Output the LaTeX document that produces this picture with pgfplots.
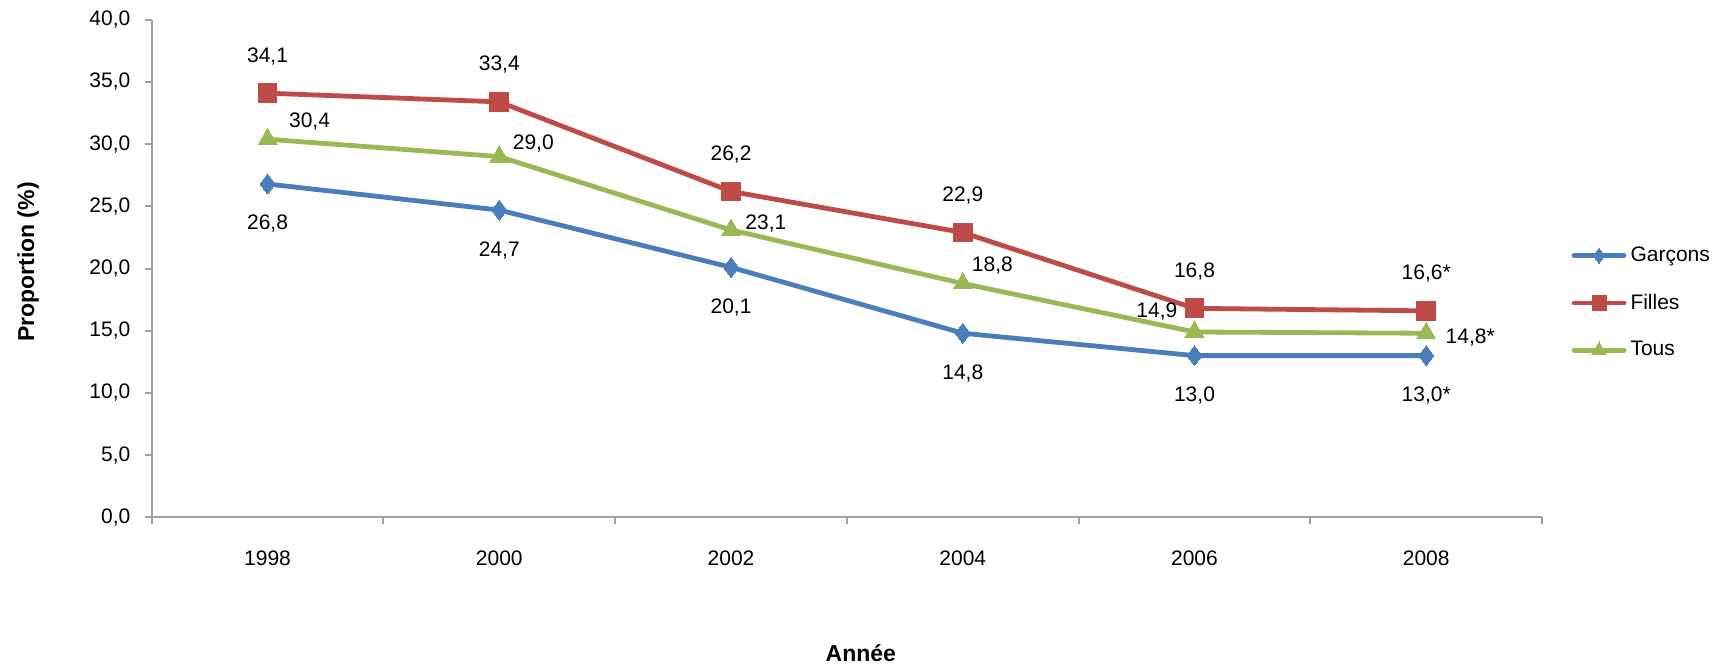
\documentclass[border=0pt]{standalone}
\usepackage{fontspec}
\setmainfont{Liberation Sans}
\usepackage{pgfplots}
\pgfplotsset{compat=1.18}
\usepackage{pgfplotstable}

\definecolor{cg}{RGB}{74,126,187}
\definecolor{cf}{RGB}{190,75,72}
\definecolor{ct}{RGB}{152,185,84}
\definecolor{axgray}{RGB}{160,160,160}

% year index, values, labels, offsets of the "Tous" labels (pt)
\pgfplotstableread{
x g gl f fl t tl tdx tdy
0 26.8 26,8 34.1 34,1 30.4 30,4 21 9
1 24.7 24,7 33.4 33,4 29.0 29,0 17 6.5
2 20.1 20,1 26.2 26,2 23.1 23,1 17.4 3.3
3 14.8 14,8 22.9 22,9 18.8 18,8 14.8 9.2
4 13.0 13,0 16.8 16,8 14.9 14,9 -18.8 10
5 13.0 13,0* 16.6 16,6* 14.8 14,8* 22 -2
}\data

\begin{document}
\begin{tikzpicture}[font=\fontsize{10.5}{12.6}\selectfont]
\useasboundingbox (-75.85pt,-74.35pt) rectangle (785.65pt,258.65pt);
\begin{axis}[
  scale only axis,
  width=695.2pt, height=248.75pt,
  xmin=-0.5, xmax=5.5,
  ymin=0, ymax=40,
  clip=false,
  axis lines*=left,
  axis line style={axgray, line width=1pt},
  tick style={axgray, line width=1pt},
  tick align=outside,
  major tick length=3.5pt,
  xtick={-0.5,0.5,...,5.5},
  xticklabels={1998,2000,2002,2004,2006,2008},
  x tick label as interval,
  ytick={0,5,...,40},
  /pgf/number format/.cd, fixed, fixed zerofill, precision=1, use comma, assume math mode=true,
  /pgfplots/.cd,
  xticklabel style={anchor=center, yshift=-17pt},
  yticklabel style={anchor=east, inner sep=0pt, xshift=-7pt},
  every axis x label/.style={at={(axis description cs:0.51,0)}, yshift=-67.7pt, anchor=center, font=\fontsize{11.5}{13}\selectfont\bfseries},
  every axis y label/.style={at={(axis description cs:0,0.513)}, xshift=-61.7pt, rotate=90, anchor=center, font=\fontsize{11.5}{13}\selectfont\bfseries},
  xlabel={Année},
  ylabel={Proportion (\%)},
  legend style={at={(1.021,0.431)}, anchor=west, draw=none, fill=none, row sep=10.7pt,
    font=\fontsize{10.5}{12.6}\selectfont, inner sep=0pt},
  legend cell align=left,
  legend image code/.code={\draw[mark repeat=2,mark phase=2, every mark/.append style={scale=0.75}]
    plot coordinates {(0pt,0pt) (12.5pt,0pt) (25pt,0pt)};},
  point meta=explicit symbolic,
  nodes near coords,
  every node near coord/.append style={text=black, anchor=center, font=\fontsize{10.5}{12.6}\selectfont},
]
\addplot[cg, line width=2.4pt, line join=round, line cap=round, mark=diamond*, mark size=5pt,
  mark options={solid, fill=cg, draw=cg, line width=0pt},
  every node near coord/.append style={yshift=-20pt}]
  table[x=x, y=g, meta=gl] {\data};
\addlegendentry{Garçons}
\addplot[cf, line width=2.4pt, line join=round, line cap=round, mark=square*, mark size=4.7pt,
  mark options={solid, fill=cf, draw=cf, line width=0pt},
  every node near coord/.append style={yshift=18.5pt}]
  table[x=x, y=f, meta=fl] {\data};
\addlegendentry{Filles}
\addplot[ct, line width=2.4pt, line join=round, line cap=round, mark=triangle*, mark size=5.5pt,
  mark options={solid, fill=ct, draw=ct, line width=0pt},
  visualization depends on={\thisrow{tdx} \as \tdx},
  visualization depends on={\thisrow{tdy} \as \tdy},
  every node near coord/.append style={xshift=\tdx*1pt, yshift=\tdy*1pt}]
  table[x=x, y=t, meta=tl] {\data};
\addlegendentry{Tous}
\end{axis}
\end{tikzpicture}
\end{document}
